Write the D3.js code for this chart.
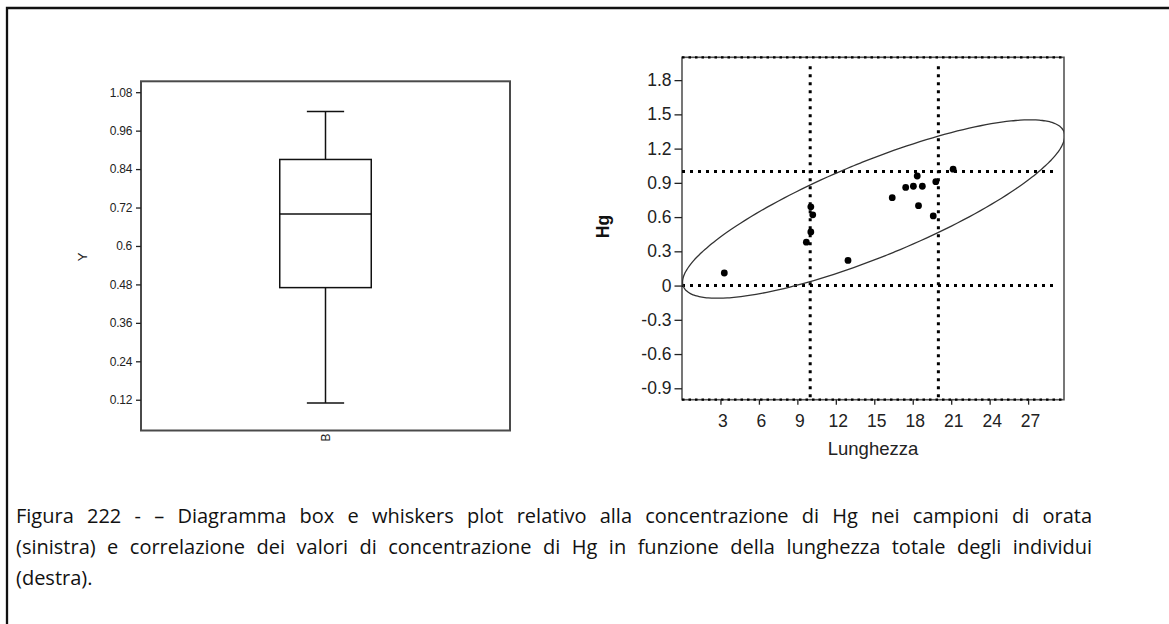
<!DOCTYPE html>
<html><head><meta charset="utf-8">
<script src="https://cdn.jsdelivr.net/npm/d3@7"></script>
<style>
html,body{margin:0;padding:0;background:#fff;}
svg{display:block;}
</style></head><body>
<svg id="chart" width="1169" height="624"></svg>
<script>
// ---------- data ----------
const lunghezza = [3.3, 9.7, 10.05, 10.2, 10.05, 12.95, 16.4, 17.45, 18.05, 18.75, 18.35, 18.45, 19.6, 19.8, 21.15];
const hg        = [0.11, 0.38, 0.69, 0.62, 0.47, 0.22, 0.77, 0.86, 0.87, 0.87, 0.96, 0.70, 0.61, 0.91, 1.02];
const boxCategory = ["B"];
const boxTicks = [0.12, 0.24, 0.36, 0.48, 0.6, 0.72, 0.84, 0.96, 1.08];
const scatterYTicks = [-0.9, -0.6, -0.3, 0, 0.3, 0.6, 0.9, 1.2, 1.5, 1.8];
const scatterXTicks = [3, 6, 9, 12, 15, 18, 21, 24, 27];
const refX = [10, 20];
const refY = [0, 1];
const boxYLabel = "Y";
const scatterXLabel = "Lunghezza";
const scatterYLabel = "Hg";
const captionLines = [
  "Figura 222 - \u2013 Diagramma box e whiskers plot relativo alla concentrazione di Hg nei campioni di orata",
  "(sinistra) e correlazione dei valori di concentrazione di Hg in funzione della lunghezza totale degli individui",
  "(destra)."
];

const svg = d3.select("#chart");
const axisFont = "'Liberation Sans', Arial, sans-serif";

// outer page border (top + left)
svg.append("path").attr("d", "M7,624V8H1169").attr("fill", "none")
  .attr("stroke", "#111").attr("stroke-width", 2.3);

// ---------- box plot ----------
const L = {x0: 141, x1: 510, y0: 81.3, y1: 430.5};
const xL = d3.scaleBand().domain(boxCategory).range([L.x0, L.x1]);
const yL = d3.scaleLinear().domain([0.024, 1.114]).range([L.y1, L.y0]);

function minitabQ(sorted, p) {
  const pos = p * (sorted.length + 1);
  const lo = Math.floor(pos), hi = Math.ceil(pos);
  const a = sorted[Math.max(0, lo - 1)], b = sorted[Math.min(sorted.length - 1, hi - 1)];
  return a + (b - a) * (pos - lo);
}
const sortedHg = hg.slice().sort((a, b) => a - b);
const q1 = minitabQ(sortedHg, 0.25), med = minitabQ(sortedHg, 0.5), q3 = minitabQ(sortedHg, 0.75);
const iqr = q3 - q1;
const wLo = d3.min(sortedHg.filter(v => v >= q1 - 1.5 * iqr));
const wHi = d3.max(sortedHg.filter(v => v <= q3 + 1.5 * iqr));

const gL = svg.append("g");
gL.append("rect").attr("x", L.x0).attr("y", L.y0).attr("width", L.x1 - L.x0).attr("height", L.y1 - L.y0)
  .attr("fill", "none").attr("stroke", "#4a4a4a").attr("stroke-width", 2);

const cx = xL("B") + xL.bandwidth() / 2;
const bw = xL.bandwidth() * 0.248, cw = xL.bandwidth() * 0.101;
function line(g, x1, y1, x2, y2) {
  g.append("line").attr("x1", x1).attr("y1", y1).attr("x2", x2).attr("y2", y2)
    .attr("stroke", "#111").attr("stroke-width", 1.5);
}
line(gL, cx, yL(wHi), cx, yL(q3));
line(gL, cx, yL(q1), cx, yL(wLo));
line(gL, cx - cw / 2, yL(wHi), cx + cw / 2, yL(wHi));
line(gL, cx - cw / 2, yL(wLo), cx + cw / 2, yL(wLo));
gL.append("rect").attr("x", cx - bw / 2).attr("y", yL(q3)).attr("width", bw).attr("height", yL(q1) - yL(q3))
  .attr("fill", "none").attr("stroke", "#111").attr("stroke-width", 1.5);
line(gL, cx - bw / 2, yL(med), cx + bw / 2, yL(med));

const axL = gL.append("g").attr("transform", `translate(${L.x0},0)`)
  .call(d3.axisLeft(yL).tickValues(boxTicks).tickSize(5).tickPadding(4)
    .tickFormat(d => String(+d.toFixed(2))));
axL.select(".domain").remove();
axL.selectAll("line").attr("stroke", "#222").attr("stroke-width", 1.3);
axL.selectAll("text").attr("font-family", axisFont).attr("font-size", 12).attr("fill", "#222")
  .attr("letter-spacing", -0.3);

gL.append("text").attr("transform", `translate(82,${(L.y0 + L.y1) / 2 + 1}) rotate(-90)`)
  .attr("text-anchor", "middle").attr("dy", "0.35em")
  .attr("font-family", axisFont).attr("font-size", 13).attr("fill", "#222").text(boxYLabel);
gL.append("text").attr("transform", `translate(${cx},${L.y1 + 3}) rotate(-90)`)
  .attr("text-anchor", "end").attr("dy", "0.35em")
  .attr("font-family", axisFont).attr("font-size", 12).attr("fill", "#222").text(boxCategory[0]);

// ---------- scatter ----------
const R = {x0: 682, x1: 1064, y0: 57.3, y1: 399.7};
const xR = d3.scaleLinear().domain([0, 29.8]).range([R.x0, R.x1]);
const yR = d3.scaleLinear().domain([-1, 2]).range([R.y1, R.y0]);
const gR = svg.append("g");

svg.append("defs").append("clipPath").attr("id", "clipR").append("rect")
  .attr("x", R.x0).attr("y", R.y0).attr("width", R.x1 - R.x0).attr("height", R.y1 - R.y0);

gR.append("rect").attr("x", R.x0).attr("y", R.y0).attr("width", R.x1 - R.x0).attr("height", R.y1 - R.y0)
  .attr("fill", "none").attr("stroke", "#555").attr("stroke-width", 1.6);
[yR.domain()[1], yR.domain()[0]].forEach(v => {
  gR.append("line").attr("x1", R.x0).attr("x2", R.x1).attr("y1", yR(v)).attr("y2", yR(v))
    .attr("stroke", "#000").attr("stroke-width", 2.2).attr("stroke-dasharray", "2.5,4");
});

// reference lines
gR.selectAll(".rx").data(refX).join("line")
  .attr("x1", d => xR(d)).attr("x2", d => xR(d))
  .attr("y1", R.y0 + 9).attr("y2", R.y1)
  .attr("stroke", "#000").attr("stroke-width", 3).attr("stroke-dasharray", "3,5");
gR.selectAll(".ry").data(refY).join("line")
  .attr("x1", R.x0).attr("x2", R.x1 - 6)
  .attr("y1", d => yR(d)).attr("y2", d => yR(d))
  .attr("stroke", "#000").attr("stroke-width", 3).attr("stroke-dasharray", "3,5");

// density ellipse from data covariance
const n = lunghezza.length;
const mx = d3.mean(lunghezza), my = d3.mean(hg);
let sxx = 0, syy = 0, sxy = 0;
for (let i = 0; i < n; i++) {
  const dx = lunghezza[i] - mx, dy = hg[i] - my;
  sxx += dx * dx; syy += dy * dy; sxy += dx * dy;
}
sxx /= n - 1; syy /= n - 1; sxy /= n - 1;
const a = Math.sqrt(sxx), b = sxy / a, c = Math.sqrt(syy - b * b);
const k = 2.87;
const ell = d3.range(0, 360, 2).map(t => {
  const r = t * Math.PI / 180;
  return [mx + k * a * Math.cos(r), my + k * (b * Math.cos(r) + c * Math.sin(r))];
});
gR.append("path").attr("clip-path", "url(#clipR)")
  .attr("d", d3.line().x(d => xR(d[0])).y(d => yR(d[1])).curve(d3.curveCardinalClosed)(ell))
  .attr("fill", "none").attr("stroke", "#333").attr("stroke-width", 1.3);

// points
gR.selectAll(".pt").data(d3.range(n)).join("circle")
  .attr("cx", i => xR(lunghezza[i])).attr("cy", i => yR(hg[i])).attr("r", 3.4).attr("fill", "#000");

// axes
const ayR = gR.append("g").attr("transform", `translate(${R.x0},0)`)
  .call(d3.axisLeft(yR).tickValues(scatterYTicks).tickSize(7.5).tickPadding(3)
    .tickFormat(d => String(+d.toFixed(1))));
ayR.select(".domain").remove();
ayR.selectAll("line").attr("stroke", "#222").attr("stroke-width", 1.3);
ayR.selectAll("text").attr("font-family", axisFont).attr("font-size", 17.5).attr("fill", "#222");

const axR = gR.append("g").attr("transform", `translate(0,${R.y1})`)
  .call(d3.axisBottom(xR).tickValues(scatterXTicks).tickSize(5).tickPadding(10));
axR.select(".domain").remove();
axR.selectAll("line").attr("stroke", "#222").attr("stroke-width", 1.3);
axR.selectAll("text").attr("font-family", axisFont).attr("font-size", 17.5).attr("fill", "#222")
  .attr("dx", 2);

gR.append("text").attr("x", (R.x0 + R.x1) / 2).attr("y", 455)
  .attr("text-anchor", "middle").attr("font-family", axisFont).attr("font-size", 18.5).attr("fill", "#222")
  .text(scatterXLabel);
gR.append("text").attr("transform", `translate(603,${(R.y0 + R.y1) / 2 - 2}) rotate(-90)`)
  .attr("text-anchor", "middle").attr("dy", "0.35em").attr("font-weight", "bold")
  .attr("font-family", axisFont).attr("font-size", 17.5).attr("fill", "#111").text(scatterYLabel);

// ---------- caption (justified, slightly condensed) ----------
const capFont = "'Open Sans', 'Noto Sans', sans-serif";
const capX0 = 16, capX1 = 1092;
const capBase = [523, 554, 585];
const fs = 20;
const measure = svg.append("text").attr("font-family", capFont).attr("font-size", fs).attr("visibility", "hidden");
function width(str) { measure.text(str); return measure.node().getComputedTextLength(); }
const natural = Math.max(width(captionLines[0]), width(captionLines[1]));
const sx = Math.min(1, ((capX1 - capX0) - 6) / natural);
const W = (capX1 - capX0) / sx;
const gc = svg.append("g").attr("transform", `translate(${capX0},0) scale(${sx},1)`);
captionLines.forEach((ln, li) => {
  const t = gc.append("text").attr("font-family", capFont).attr("font-size", fs).attr("fill", "#111")
    .attr("y", capBase[li]);
  const words = ln.split(" ");
  if (li < captionLines.length - 1) {
    const ws = words.map(w => width(w));
    const gap = (W - d3.sum(ws)) / (words.length - 1);
    let x = 0;
    words.forEach((w, i) => {
      t.append("tspan").attr("x", x).text(w + (i < words.length - 1 ? " " : ""));
      x += ws[i] + gap;
    });
  } else {
    t.attr("x", 0).text(ln);
  }
});
measure.remove();
</script>
</body></html>
